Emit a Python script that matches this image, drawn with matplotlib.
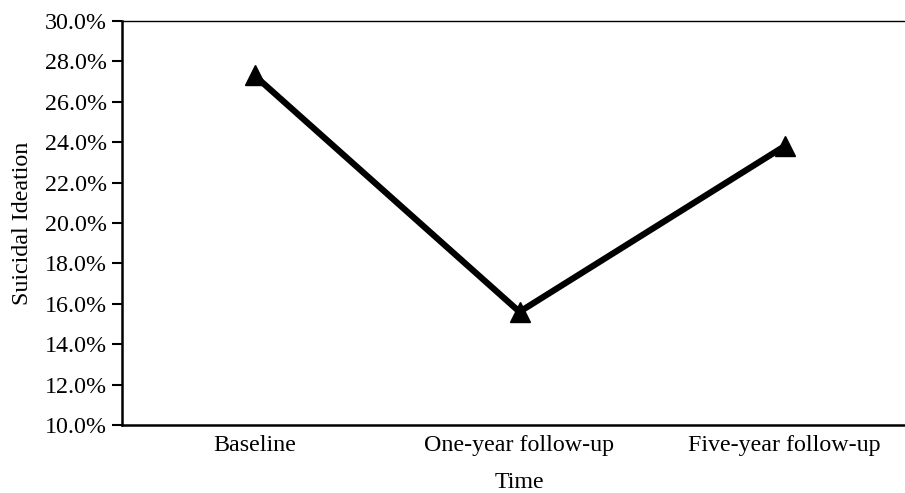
import matplotlib
matplotlib.use('Agg')
import matplotlib.pyplot as plt
from matplotlib.ticker import FuncFormatter

# datos
categories = ['Baseline', 'One-year follow-up', 'Five-year follow-up']
ideation = [27.3, 15.6, 23.8]

plt.rcParams['font.family'] = ['Liberation Serif', 'DejaVu Serif']

fig = plt.figure(figsize=(9.05, 4.93), dpi=100)
ax = fig.add_axes([0.1348, 0.138, 0.8785, 0.8195])

x = range(len(categories))
ax.plot(x, ideation, color='black', linewidth=4.5, marker='^', markersize=14,
        solid_joinstyle='miter')

ax.set_xlim(-0.5, 2.5)
ax.set_ylim(10, 30)
ax.set_yticks([10, 12, 14, 16, 18, 20, 22, 24, 26, 28, 30])
ax.yaxis.set_major_formatter(FuncFormatter(lambda v, p: f'{v:.1f}%'))
ax.set_xticks(list(x))
ax.set_xticklabels(categories)

fs = 17.3
ax.tick_params(axis='y', labelsize=fs, length=7, width=1.5, pad=4)
ax.tick_params(axis='x', labelsize=fs, length=0, pad=7)

ax.set_ylabel('Suicidal Ideation', fontsize=fs, labelpad=8)
ax.set_xlabel('Time', fontsize=fs, labelpad=12)

ax.spines['left'].set_linewidth(1.8)
ax.spines['bottom'].set_linewidth(1.8)
ax.spines['top'].set_linewidth(1.0)
ax.spines['right'].set_visible(False)

fig.savefig('out.png', dpi=100)
